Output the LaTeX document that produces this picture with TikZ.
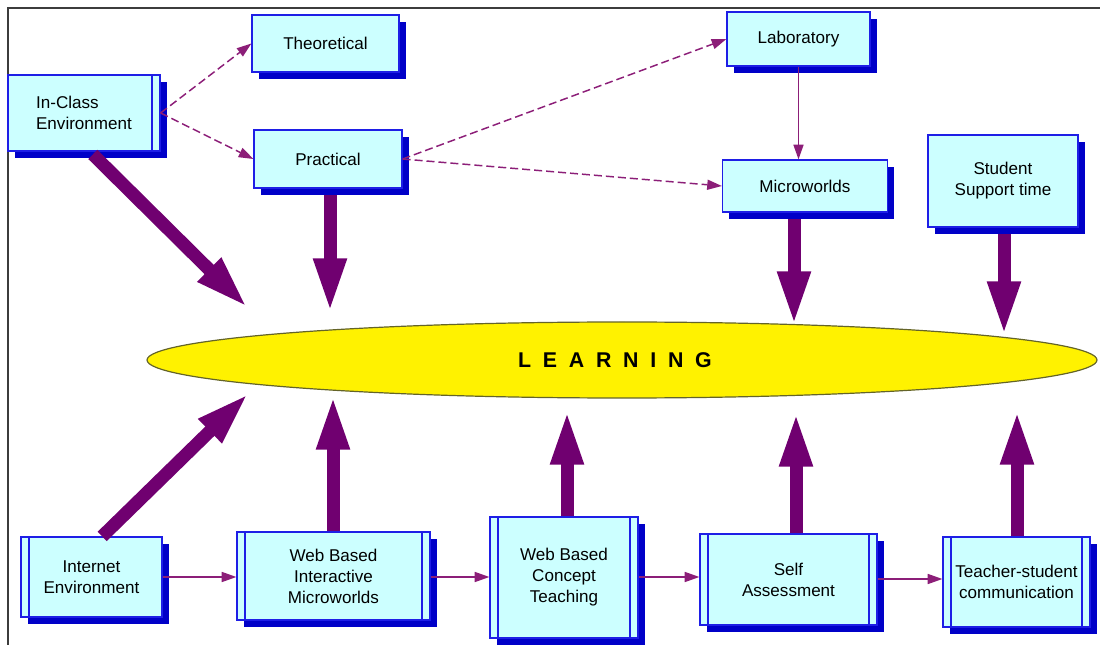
\documentclass[tikz,border=0pt]{standalone}
\usepackage{fontspec}
\setmainfont{Liberation Sans}
\newfontfamily\learnfont[LetterSpace=55]{Liberation Sans}
\usetikzlibrary{arrows.meta,shadows,shapes.geometric}
\definecolor{boxfill}{RGB}{204,255,255}
\definecolor{boxline}{RGB}{30,30,230}
\definecolor{shadowblue}{RGB}{0,0,200}
\definecolor{bigpurple}{RGB}{112,0,112}
\definecolor{thinpurple}{RGB}{140,30,120}
\definecolor{ellline}{RGB}{100,100,40}
\definecolor{framegray}{RGB}{60,60,60}
\begin{document}
\begin{tikzpicture}[x=0.75pt,y=-0.75pt,
  box/.style={draw=boxline, line width=0.9pt, fill=boxfill,
    font=\fontsize{12.8}{15.75}\selectfont, align=center, inner sep=0pt,
    drop shadow={shadow xshift=5pt, shadow yshift=-5pt, fill=shadowblue, opacity=1}},
  innerline/.style={draw=boxline, line width=0.9pt},
  big/.style={draw=bigpurple, line width=9.75pt, -{Triangle[length=41pt,width=22.5pt]}},
  thinarrow/.style={draw=thinpurple, line width=1.1pt, -{Triangle[length=11pt,width=7.5pt]}},
  dashedarrow/.style={thinarrow, dash pattern=on 6pt off 3pt},
  learnshape/.style={ellipse, draw=ellline, line width=0.9pt, fill=yellow, inner sep=0pt}
]
\useasboundingbox (0,0) rectangle (1100,645);
\draw[framegray, line width=1.5pt] (1100,8) -- (8,8) -- (8,645);

% top nodes
\node[box, minimum width=110.25pt, minimum height=42.75pt] (theo) at (325.5,43.5) {Theoretical};
\node[box, minimum width=114pt, minimum height=57pt, align=left] (incl) at (84,113) {In-Class\\Environment};
\node[box, minimum width=111pt, minimum height=43.5pt] (prac) at (328,159) {Practical};
\node[box, minimum width=107.25pt, minimum height=40.5pt] (lab) at (798.5,39) {Laboratory};
\node[box, minimum width=123.75pt, minimum height=39pt] (micro) at (805,186) {Microworlds};
\node[box, minimum width=112.5pt, minimum height=69pt] (stud) at (1003,181) {Student\\Support time};

% learning
\node[learnshape, minimum width=712.5pt, minimum height=57pt] (learn) at (622,360)
  {\fontsize{16}{18}\selectfont\learnfont\bfseries LEARNING\kern10.5pt};

% bottom nodes
\node[box, minimum width=105.75pt, minimum height=60pt] (inet) at (91.5,577) {Internet\\Environment};
\node[box, minimum width=144.75pt, minimum height=66pt] (webi) at (333.5,576) {Web Based\\Interactive\\Microworlds};
\node[box, minimum width=111pt, minimum height=90.75pt] (conc) at (564,577.5) {Web Based\\Concept\\Teaching};
\node[box, minimum width=132.75pt, minimum height=68.25pt] (self) at (788.5,579.5) {Self\\Assessment};
\node[box, minimum width=110.25pt, minimum height=67.5pt] (teach) at (1016.5,582) {Teacher-student\\communication};

% inner process lines
\foreach \n in {inet,webi,conc,self,teach}
  \draw[innerline] ([xshift=6.5pt]\n.north west) -- ([xshift=6.5pt]\n.south west);
\foreach \n in {incl,webi,conc,self,teach}
  \draw[innerline] ([xshift=-6.5pt]\n.north east) -- ([xshift=-6.5pt]\n.south east);

% tip coordinates
\coordinate (t1) at (248,308);
\coordinate (t2) at (330,313);
\coordinate (t3) at (794,326);
\coordinate (t4) at (1004,336);
\coordinate (b1) at (249,393);
\coordinate (b2) at (333,395);
\coordinate (b3) at (567,410);
\coordinate (b4) at (796,412);
\coordinate (b5) at (1017,410);

% big arrows
\draw[big, shorten <=3pt] ([xshift=4.5pt]incl.south) -- (t1);
\draw[big, shorten <=4.5pt] (t2 |- prac.south) -- (t2);
\draw[big, shorten <=4.5pt] (t3 |- micro.south) -- (t3);
\draw[big, shorten <=4.5pt] (t4 |- stud.south) -- (t4);
\draw[big] ([xshift=8pt]inet.north) -- (b1);
\draw[big] (b2 |- webi.north) -- (b2);
\draw[big] (b3 |- conc.north) -- (b3);
\draw[big] (b4 |- self.north) -- (b4);
\draw[big] (b5 |- teach.north) -- (b5);

% thin arrows
\draw[dashedarrow] (incl.east) -- (theo.west);
\draw[dashedarrow] (incl.east) -- (prac.west);
\draw[dashedarrow] (prac.east) -- (lab.west);
\draw[dashedarrow] (prac.east) -- (micro.west);
\draw[thinarrow] (lab.south) -- (lab.south |- micro.north);
\draw[thinarrow] (inet.east) -- (inet.east -| webi.west);
\draw[thinarrow] (webi.east |- inet.east) -- (inet.east -| conc.west);
\draw[thinarrow] (conc.east |- inet.east) -- (inet.east -| self.west);
\draw[thinarrow] ([yshift=-1.5pt]self.east |- inet.east) -- ([yshift=-1.5pt]inet.east -| teach.west);
\end{tikzpicture}
\end{document}
